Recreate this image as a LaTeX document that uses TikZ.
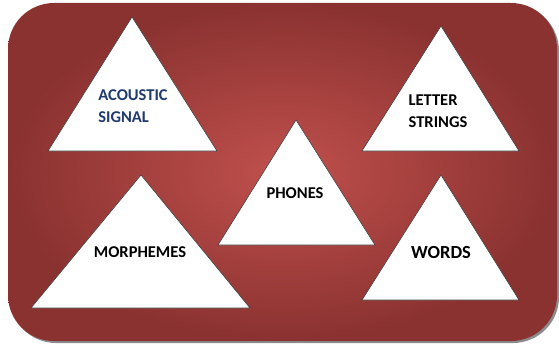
\documentclass[tikz,border=0pt]{standalone}
\usepackage{fontspec}
\setmainfont{Carlito}
\definecolor{bgin}{HTML}{C0504D}
\definecolor{bgout}{HTML}{8A3230}
\definecolor{navy}{HTML}{1F3A6E}
\tikzset{
  tri/.style={fill=white, draw=black!75, line width=0.6pt, line join=miter},
  lbl/.style={font=\bfseries\fontsize{16.5}{22}\selectfont, align=left, inner sep=0pt, text=black},
}
\begin{document}
\begin{tikzpicture}[x=1pt,y=-1pt]
\useasboundingbox (0,0) rectangle (559,345);
% shadow
\fill[black!45, rounded corners=46pt] (10,5) rectangle (559,343);
% background
\path[rounded corners=46pt, shading=radial, inner color=bgin, outer color=bgout]
  (8,3) rectangle (557,341);
% triangles
\draw[tri] (132,17) -- (217,151) -- (48,151) -- cycle;
\draw[tri] (441,26) -- (519,151) -- (362,151) -- cycle;
\draw[tri] (296,120) -- (375,245) -- (218,245) -- cycle;
\draw[tri] (141,175) -- (250,308) -- (31,308) -- cycle;
\draw[tri] (441,175) -- (519,300) -- (362,300) -- cycle;
% labels
\node[lbl, text=navy] (acoustic) at (133,106) {ACOUSTIC\\SIGNAL};
\node[lbl] (letter) at (438,111) {LETTER\\STRINGS};
\node[lbl] (phones) at (295,193) {PHONES};
\node[lbl] (morph) at (140,252) {MORPHEMES};
\node[lbl, font=\bfseries\fontsize{18.5}{22}\selectfont] (words) at (441,252) {WORDS};
\end{tikzpicture}
\end{document}
